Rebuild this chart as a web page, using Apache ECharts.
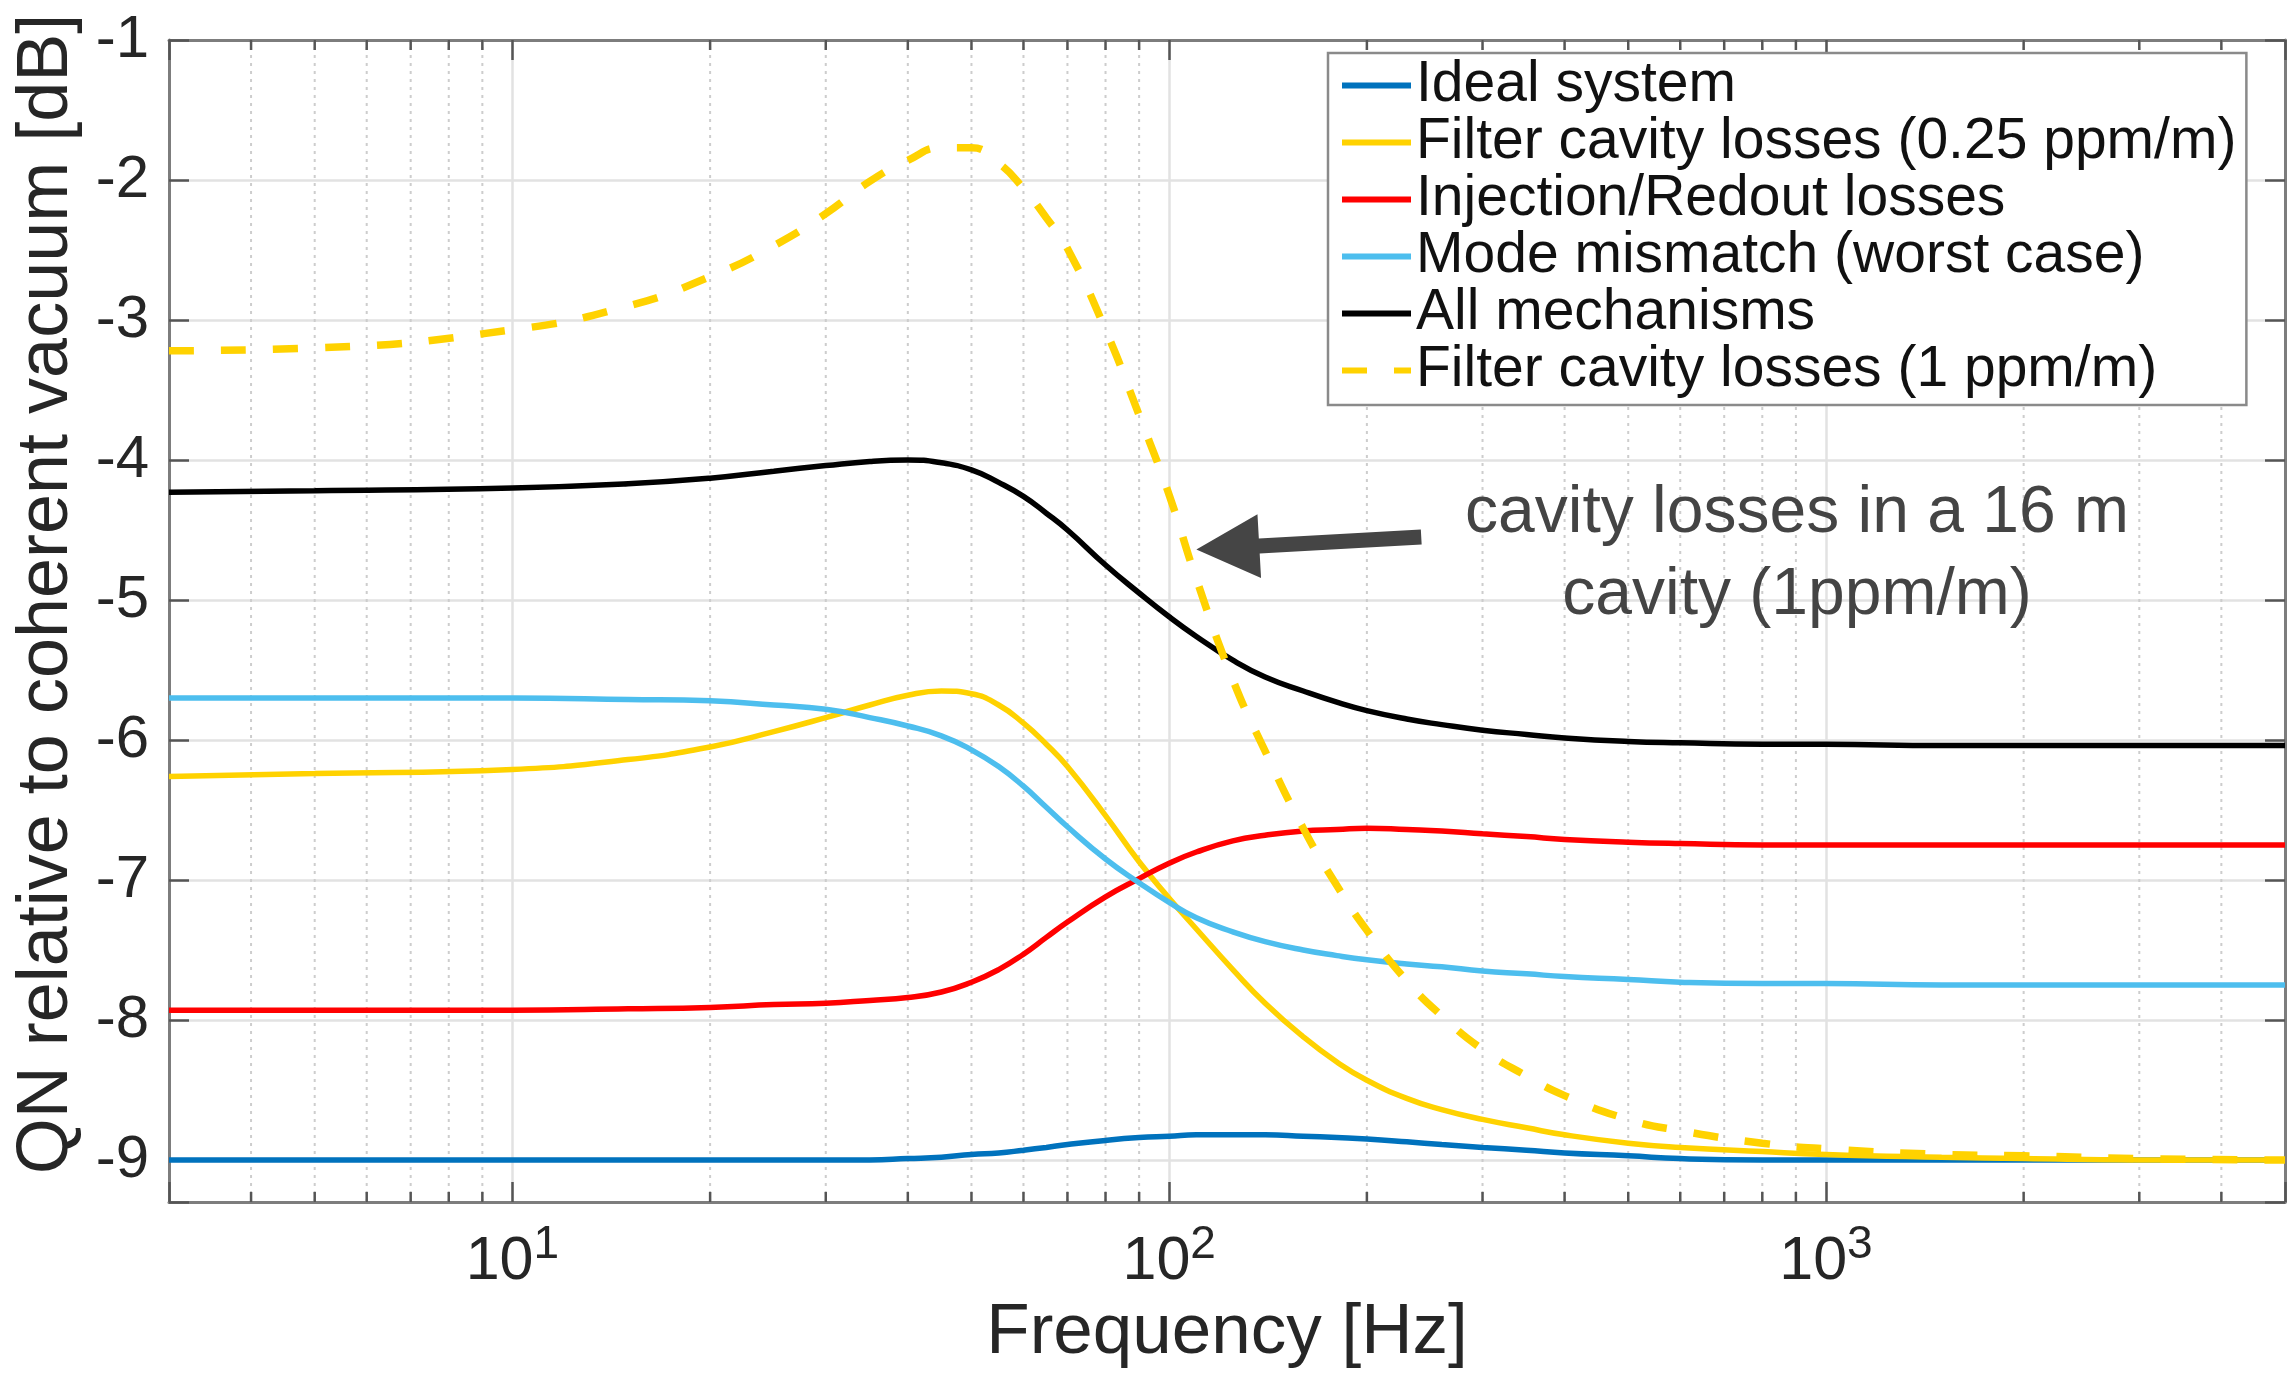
<!DOCTYPE html>
<html>
<head>
<meta charset="utf-8">
<title>QN relative to coherent vacuum</title>
<script src="https://cdn.jsdelivr.net/npm/echarts@6/dist/echarts.min.js"></script>
<style>
    html, body { margin: 0; padding: 0; background: #fff; }
    #main { width: 2287px; height: 1373px; }
</style>
</head>
<body>
<div id="main"></div>
<script>
// frequency grid [Hz] the curves were read at
var freqs = [3, 5, 10, 15, 20, 25, 30, 35, 40, 45, 50, 55, 60, 65, 70, 80, 90, 100, 110, 125,
    140, 160, 180, 200, 230, 260, 300, 350, 400, 500, 600, 800, 1000, 1500, 2000, 3000, 5000];

// QN relative to coherent vacuum [dB]
var idealSystem = [-9.0, -9.0, -9.0, -9.0, -9.0, -9.0, -9.0, -9.0, -8.99, -8.98, -8.96, -8.95, -8.93, -8.91, -8.89, -8.86, -8.84, -8.83, -8.82, -8.82,
    -8.82, -8.83, -8.84, -8.85, -8.87, -8.89, -8.91, -8.93, -8.95, -8.97, -8.99, -9.0, -9.0, -9.0, -9.0, -9.0, -9.0];
var filterLoss025 = [-6.26, -6.24, -6.21, -6.14, -6.05, -5.94, -5.84, -5.75, -5.68, -5.65, -5.67, -5.75, -5.88, -6.03, -6.19, -6.54, -6.87, -7.13, -7.35, -7.64,
    -7.88, -8.12, -8.30, -8.43, -8.56, -8.64, -8.71, -8.77, -8.82, -8.88, -8.91, -8.94, -8.96, -8.98, -8.99, -9.0, -9.0];
var injectionLoss = [-7.93, -7.93, -7.93, -7.92, -7.91, -7.89, -7.88, -7.86, -7.84, -7.80, -7.73, -7.64, -7.53, -7.41, -7.30, -7.12, -6.99, -6.88, -6.80, -6.72,
    -6.68, -6.65, -6.64, -6.63, -6.64, -6.65, -6.67, -6.69, -6.71, -6.73, -6.74, -6.75, -6.75, -6.75, -6.75, -6.75, -6.75];
var modeMismatch = [-5.70, -5.70, -5.70, -5.71, -5.72, -5.75, -5.78, -5.84, -5.90, -5.97, -6.07, -6.19, -6.33, -6.48, -6.62, -6.85, -7.02, -7.16, -7.27, -7.37,
    -7.44, -7.50, -7.54, -7.57, -7.60, -7.62, -7.65, -7.67, -7.69, -7.71, -7.73, -7.74, -7.74, -7.75, -7.75, -7.75, -7.75];
var allMechanisms = [-4.23, -4.22, -4.20, -4.17, -4.13, -4.08, -4.04, -4.01, -4.00, -4.02, -4.07, -4.16, -4.26, -4.38, -4.50, -4.75, -4.95, -5.12, -5.26, -5.43,
    -5.55, -5.65, -5.73, -5.79, -5.85, -5.89, -5.93, -5.96, -5.985, -6.01, -6.02, -6.03, -6.03, -6.04, -6.04, -6.04, -6.04];
var filterLoss1 = [-3.22, -3.20, -3.07, -2.90, -2.69, -2.47, -2.24, -2.01, -1.86, -1.77, -1.77, -1.88, -2.06, -2.27, -2.49, -3.07, -3.68, -4.25, -4.85, -5.57,
    -6.08, -6.63, -7.04, -7.36, -7.72, -7.97, -8.21, -8.40, -8.54, -8.71, -8.79, -8.88, -8.92, -8.96, -8.97, -8.99, -9.0];

var seriesNames = ['Ideal system', 'Filter cavity losses (0.25 ppm/m)', 'Injection/Redout losses',
    'Mode mismatch (worst case)', 'All mechanisms', 'Filter cavity losses (1 ppm/m)'];

// axis limits and minor (log) gridlines
var xMin = 3, xMax = 5000;
var yMin = -9.3, yMax = -1;
var minorTicks = [4, 5, 6, 7, 8, 9, 20, 30, 40, 50, 60, 70, 80, 90,
    200, 300, 400, 500, 600, 700, 800, 900, 2000, 3000, 4000];

// annotation arrow, in data coordinates (tail -> tip)
var arrowFrom = [242, -4.55];
var arrowTo = [110, -4.64];

var FONT = '"Liberation Sans", Arial, Helvetica, sans-serif';

window.onload = function () {
    renderChart();
};

function pairs(values) {
    return freqs.map(function (f, i) { return [f, values[i]]; });
}

function lineSeries(name, values, color, width, dash) {
    return {
        name: name,
        type: 'line',
        data: pairs(values),
        showSymbol: false,
        symbol: 'none',
        smooth: 0.5,
        silent: true,
        lineStyle: { color: color, width: width, type: dash || 'solid' },
        itemStyle: { color: color },
        emphasis: { disabled: true }
    };
}

// dotted minor gridlines + small inside ticks top and bottom
function renderMinorGrid(params, api) {
    var f = api.value(0);
    var bottom = api.coord([f, yMin]);
    var top = api.coord([f, yMax]);
    return {
        type: 'group',
        children: [
            { type: 'line', shape: { x1: bottom[0], y1: bottom[1], x2: top[0], y2: top[1] },
                style: { stroke: '#cdcdcd', lineWidth: 2, lineDash: [3, 5] } },
            { type: 'line', shape: { x1: bottom[0], y1: bottom[1], x2: bottom[0], y2: bottom[1] - 10 },
                style: { stroke: '#555', lineWidth: 2.5 } },
            { type: 'line', shape: { x1: top[0], y1: top[1], x2: top[0], y2: top[1] + 10 },
                style: { stroke: '#555', lineWidth: 2.5 } }
        ]
    };
}

function logAxis(pos, showLabel) {
    return {
        type: 'log',
        logBase: 10,
        position: pos,
        min: xMin,
        max: xMax,
        name: showLabel ? 'Frequency [Hz]' : '',
        nameLocation: 'middle',
        nameGap: 70,
        nameTextStyle: { fontFamily: FONT, fontSize: 71, color: '#262626' },
        axisLine: { show: true, lineStyle: { color: '#7d7d7d', width: 3 } },
        axisTick: { show: true, inside: true, length: 20, lineStyle: { color: '#555', width: 2.5 } },
        splitLine: { show: showLabel, lineStyle: { color: '#e2e2e2', width: 2.5 } },
        axisLabel: {
            show: showLabel,
            margin: 11,
            color: '#262626',
            fontFamily: FONT,
            formatter: function (value) {
                var e = Math.log10(value);
                var r = Math.round(e);
                if (Math.abs(e - r) > 1e-6) return '';
                return '{base|10}{exp|' + r + '}';
            },
            rich: {
                base: { fontFamily: FONT, fontSize: 61, lineHeight: 80, verticalAlign: 'bottom', color: '#262626' },
                exp: { fontFamily: FONT, fontSize: 46, lineHeight: 46, verticalAlign: 'top', padding: [9, 0, 0, 0], color: '#262626' }
            }
        }
    };
}

function valueAxis(pos, showLabel) {
    return {
        type: 'value',
        position: pos,
        min: yMin,
        max: yMax,
        splitNumber: 8,
        name: showLabel ? 'QN relative to coherent vacuum [dB]' : '',
        nameLocation: 'middle',
        nameGap: 86,
        nameTextStyle: { fontFamily: FONT, fontSize: 72, color: '#262626', padding: [0, 0, 0, 54] },
        axisLine: { show: true, lineStyle: { color: '#7d7d7d', width: 3 } },
        axisTick: { show: true, inside: true, length: 20, lineStyle: { color: '#555', width: 2.5 } },
        splitLine: { show: showLabel, lineStyle: { color: '#e2e2e2', width: 2.5 } },
        axisLabel: {
            show: showLabel,
            margin: 20,
            fontFamily: FONT,
            fontSize: 60,
            color: '#262626',
            formatter: function (value) {
                return Math.abs(value - Math.round(value)) < 1e-6 ? String(Math.round(value)) : '';
            }
        }
    };
}

function renderChart() {
    var myChart = echarts.init(document.getElementById('main'), null, { renderer: 'canvas' });

    var option = {
        animation: false,
        backgroundColor: '#fff',
        grid: { left: 169, right: 2, top: 40, bottom: 171, containLabel: false, outerBoundsMode: 'none' },
        xAxis: [logAxis('bottom', true), logAxis('top', false)],
        yAxis: [valueAxis('left', true), valueAxis('right', false)],
        legend: {
            data: seriesNames,
            orient: 'vertical',
            left: 1328,
            top: 53,
            padding: [4, 10, 6, 11],
            itemGap: 0,
            itemWidth: 69,
            itemHeight: 14,
            selectedMode: false,
            backgroundColor: '#fff',
            borderColor: '#8a8a8a',
            borderWidth: 2.5,
            borderRadius: 0,
            itemStyle: { opacity: 0 },
            lineStyle: { width: 6 },
            textStyle: { fontFamily: FONT, fontSize: 57, lineHeight: 56.6, color: '#111' }
        },
        series: [
            {
                name: 'minor grid',
                type: 'custom',
                silent: true,
                z: 1,
                renderItem: renderMinorGrid,
                encode: { x: 0, y: 1 },
                data: minorTicks.map(function (f) { return [f, yMin]; })
            },
            lineSeries(seriesNames[0], idealSystem, '#0072BD', 5.5),
            lineSeries(seriesNames[1], filterLoss025, '#FFD200', 5.5),
            lineSeries(seriesNames[2], injectionLoss, '#FF0000', 5.5),
            lineSeries(seriesNames[3], modeMismatch, '#4DBEEE', 5.5),
            lineSeries(seriesNames[4], allMechanisms, '#000000', 5.5),
            lineSeries(seriesNames[5], filterLoss1, '#FFD200', 7.5, [25, 27])
        ]
    };
    myChart.setOption(option);

    // arrow + text annotation
    var tail = myChart.convertToPixel({ xAxisIndex: 0, yAxisIndex: 0 }, arrowFrom);
    var tip = myChart.convertToPixel({ xAxisIndex: 0, yAxisIndex: 0 }, arrowTo);
    var dx = tip[0] - tail[0], dy = tip[1] - tail[1];
    var len = Math.sqrt(dx * dx + dy * dy);
    var ux = dx / len, uy = dy / len;
    var nx = -uy, ny = ux;
    var headLen = 63, headHalf = 32, shaftHalf = 7.5;
    var bx = tip[0] - ux * headLen, by = tip[1] - uy * headLen;
    var points = [
        [tail[0] + nx * shaftHalf, tail[1] + ny * shaftHalf],
        [bx + nx * shaftHalf, by + ny * shaftHalf],
        [bx + nx * headHalf, by + ny * headHalf],
        [tip[0], tip[1]],
        [bx - nx * headHalf, by - ny * headHalf],
        [bx - nx * shaftHalf, by - ny * shaftHalf],
        [tail[0] - nx * shaftHalf, tail[1] - ny * shaftHalf]
    ];

    myChart.setOption({
        graphic: [
            {
                type: 'polygon',
                silent: true,
                z: 100,
                shape: { points: points },
                style: { fill: '#454545' }
            },
            {
                type: 'text',
                silent: true,
                z: 100,
                x: 1797,
                y: 473,
                style: {
                    text: 'cavity losses in a 16 m\ncavity (1ppm/m)',
                    fontFamily: FONT,
                    fontSize: 66,
                    lineHeight: 82,
                    fill: '#444',
                    align: 'center',
                    verticalAlign: 'top'
                }
            }
        ]
    });
}
</script>
</body>
</html>
